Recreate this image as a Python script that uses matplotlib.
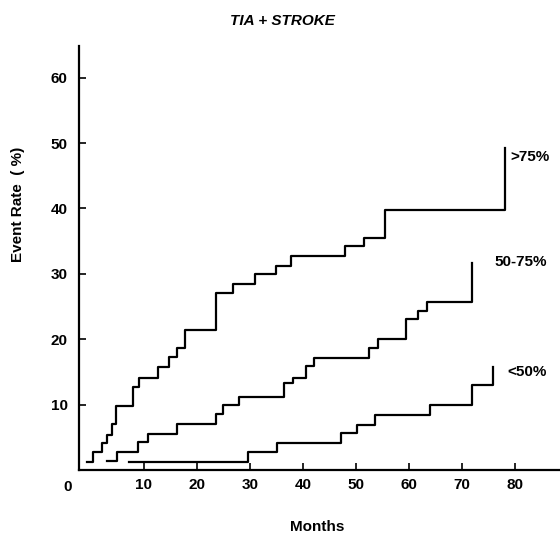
import matplotlib
matplotlib.use("Agg")
import matplotlib.pyplot as plt

plt.rcParams['font.family'] = ['Liberation Sans', 'DejaVu Sans']
plt.rcParams['font.weight'] = 'bold'

# event rate (%) steps (months, value after step)
months_gt75 = [-0.7, 0.5, 2.1, 3.1, 4.0, 4.8, 7.9, 9.1, 12.7, 14.7, 16.2, 17.8,
               23.7, 26.9, 31.0, 34.9, 37.8, 48.0, 51.6, 55.5, 78.1]
rate_gt75 = [1.2, 2.7, 4.1, 5.3, 7.0, 9.8, 12.7, 14.1, 15.8, 17.2, 18.6, 21.4,
             27.0, 28.4, 29.9, 31.2, 32.7, 34.2, 35.5, 39.8, 49.3]

months_50_75 = [3.1, 5.0, 8.9, 10.8, 16.3, 23.6, 25.0, 27.9, 36.4, 38.1, 40.6,
                42.2, 52.4, 54.1, 59.4, 61.8, 63.5, 71.9]
rate_50_75 = [1.4, 2.7, 4.2, 5.5, 7.0, 8.5, 9.9, 11.2, 13.3, 14.1, 15.9,
              17.1, 18.7, 20.0, 23.1, 24.3, 25.7, 31.7]

months_lt50 = [7.2, 29.7, 35.1, 47.3, 50.3, 53.6, 64.0, 71.9, 75.8]
rate_lt50 = [1.2, 2.7, 4.1, 5.6, 6.9, 8.4, 10.0, 13.0, 15.7]

x_ticks = [10, 20, 30, 40, 50, 60, 70, 80]
y_ticks = [10, 20, 30, 40, 50, 60]

fig = plt.figure(figsize=(5.6, 5.37), dpi=100)
ax = fig.add_axes([0.141, 0.125, 0.859, 0.79])

for mx, ry in [(months_gt75, rate_gt75), (months_50_75, rate_50_75), (months_lt50, rate_lt50)]:
    ax.step(mx, ry, where='post', color='black', lw=1.6)

# curve labels
ax.text(79.1, 47.9, '>75%', fontsize=11, fontweight='bold', va='center')
ax.text(76.2, 31.8, '50-75%', fontsize=11, fontweight='bold', va='center')
ax.text(78.5, 15.0, '<50%', fontsize=11, fontweight='bold', va='center')

ax.set_xlim(-2.2, 88.5)
ax.set_ylim(0, 64.9)
ax.set_xticks(x_ticks)
ax.set_yticks(y_ticks)
ax.tick_params(axis='both', direction='in', length=5, width=1.2, labelsize=11)
ax.tick_params(axis='x', pad=6)
ax.tick_params(axis='y', pad=8)
for lbl in ax.get_xticklabels() + ax.get_yticklabels():
    lbl.set_fontweight('bold')
# the "0" sits at the corner, left of the first tick
ax.text(-0.023, -0.025, '0', transform=ax.transAxes, fontsize=11,
        fontweight='bold', ha='center', va='top')

ax.spines['top'].set_visible(False)
ax.spines['right'].set_visible(False)
ax.spines['left'].set_linewidth(1.6)
ax.spines['bottom'].set_linewidth(1.6)

ax.set_ylabel('Event Rate  ( %)', fontsize=11, fontweight='bold')
ax.yaxis.set_label_coords(-0.112, 0.627)
ax.set_xlabel('Months', fontsize=11, fontweight='bold')
ax.xaxis.set_label_coords(0.495, -0.118)

fig.text(0.504, 0.96, 'TIA + STROKE', fontsize=11, fontweight='bold',
         fontstyle='italic', ha='center', va='center')

plt.savefig('out.png', dpi=100)
plt.close()
